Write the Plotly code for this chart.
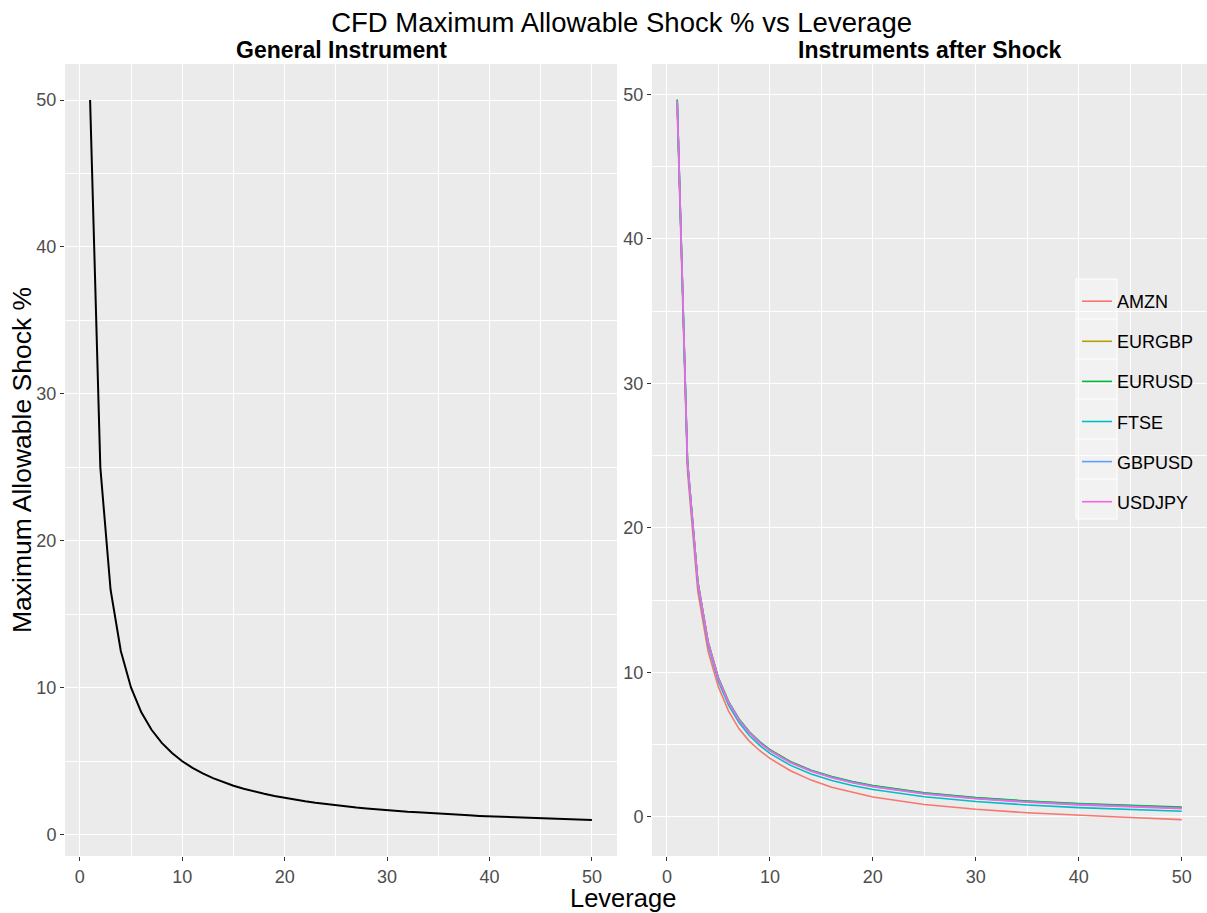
import plotly.graph_objects as go

# ---- data ----
lev_general = list(range(1, 51))
shock_general = [50.0, 25.0, 16.67, 12.5, 10.0, 8.33, 7.14, 6.25, 5.56, 5.0,
                 4.55, 4.17, 3.85, 3.57, 3.33, 3.13, 2.94, 2.78, 2.63, 2.5,
                 2.38, 2.27, 2.17, 2.08, 2.0, 1.92, 1.85, 1.79, 1.72, 1.67,
                 1.61, 1.56, 1.52, 1.47, 1.43, 1.39, 1.35, 1.32, 1.28, 1.25,
                 1.22, 1.19, 1.16, 1.14, 1.11, 1.09, 1.06, 1.04, 1.02, 1.0]

lev_inst = [1, 2, 3, 4, 5, 6, 7, 8, 9, 10, 12, 14, 16, 18, 20, 25, 30, 35, 40, 45, 50]
instruments = ["AMZN", "EURGBP", "EURUSD", "FTSE", "GBPUSD", "USDJPY"]
amzn = [48.9, 23.9, 15.6, 11.45, 9.0, 7.3, 6.1, 5.25, 4.6, 4.05, 3.2, 2.55, 2.05, 1.7, 1.38, 0.86, 0.53, 0.29, 0.11, -0.04, -0.18]
eurgbp = [49.6, 24.6, 16.3, 12.1, 9.6, 7.95, 6.77, 5.88, 5.2, 4.65, 3.82, 3.22, 2.78, 2.43, 2.16, 1.66, 1.33, 1.09, 0.91, 0.77, 0.66]
eurusd = [49.65, 24.62, 16.3, 12.12, 9.62, 7.96, 6.78, 5.9, 5.21, 4.66, 3.83, 3.24, 2.8, 2.45, 2.17, 1.68, 1.35, 1.11, 0.93, 0.79, 0.68]
ftse = [49.4, 24.35, 16.05, 11.88, 9.38, 7.72, 6.53, 5.64, 4.95, 4.4, 3.57, 2.98, 2.53, 2.18, 1.9, 1.4, 1.07, 0.83, 0.65, 0.51, 0.4]
gbpusd = [49.55, 24.55, 16.25, 12.08, 9.58, 7.92, 6.73, 5.85, 5.16, 4.61, 3.78, 3.19, 2.75, 2.4, 2.12, 1.62, 1.29, 1.05, 0.87, 0.73, 0.62]
usdjpy = [49.5, 24.5, 16.22, 12.05, 9.55, 7.89, 6.7, 5.82, 5.13, 4.58, 3.75, 3.16, 2.72, 2.37, 2.09, 1.59, 1.26, 1.02, 0.84, 0.7, 0.58]
series = [amzn, eurgbp, eurusd, ftse, gbpusd, usdjpy]
colors = ["#F8766D", "#B79F00", "#00BA38", "#00BFC4", "#619CFF", "#F564E3"]

title = "CFD Maximum Allowable Shock % vs Leverage"
sub_left = "General Instrument"
sub_right = "Instruments after Shock"
x_title = "Leverage"
y_title = "Maximum Allowable Shock %"

W, H = 1207, 913
ML, MR, MT, MB = 65, 0, 64, 57
PW, PH = W - ML - MR, H - MT - MB


def px_x(p):
    return (p - ML) / PW


def px_y(p):
    return 1 - (p - MT) / PH


fig = go.Figure()
fig.add_trace(go.Scatter(x=lev_general, y=shock_general, mode="lines",
                         line=dict(color="black", width=2), showlegend=False,
                         xaxis="x", yaxis="y"))
for name, vals, col in zip(instruments, series, colors):
    fig.add_trace(go.Scatter(x=lev_inst, y=vals, mode="lines", name=name,
                             legendgroup=name,
                             line=dict(color=col, width=1.6),
                             xaxis="x2", yaxis="y2"))

font_fam = "Liberation Sans, Arial, sans-serif"
axis_common = dict(
    showgrid=True, gridcolor="white", gridwidth=1.1, zeroline=False,
    showline=False, ticks="outside", ticklen=4, tickcolor="#333333",
    tickfont=dict(size=18, color="#4D4D4D", family=font_fam),
    minor=dict(showgrid=True, gridcolor="white", gridwidth=0.5, dtick=5, ticks=""),
    dtick=10, tick0=0,
)

fig.update_layout(
    width=W, height=H,
    plot_bgcolor="#EBEBEB", paper_bgcolor="white",
    margin=dict(l=ML, r=MR, t=MT, b=MB),
    font=dict(family=font_fam, color="black"),
    title=dict(text=title, x=0.515, xanchor="center", y=1 - 22 / H, yanchor="middle",
               yref="container",
               font=dict(size=27.5, color="black", family=font_fam)),
    xaxis=dict(domain=[0, px_x(617)], range=[-1.45, 52.45], anchor="y", **axis_common),
    yaxis=dict(domain=[0, 1], range=[-1.45, 52.45], anchor="x", **axis_common),
    xaxis2=dict(domain=[px_x(652), 1], range=[-1.45, 52.45], anchor="y2", **axis_common),
    yaxis2=dict(domain=[0, 1], range=[-2.7, 52.1], anchor="x2", **axis_common),
    legend=dict(x=px_x(1077), xanchor="left", y=px_y(283), yanchor="top",
                bgcolor="rgba(0,0,0,0)", borderwidth=0,
                font=dict(size=18, color="black", family=font_fam),
                tracegroupgap=13.7, itemwidth=30),
    showlegend=True,
)

# legend key background (ggplot-style)
fig.add_shape(type="rect", xref="paper", yref="paper",
              x0=px_x(1076), x1=px_x(1117), y0=px_y(519), y1=px_y(279),
              fillcolor="#F2F2F2", line=dict(color="white", width=1), layer="below")
for k in range(1, 6):
    yy = px_y(279 + k * 40)
    fig.add_shape(type="line", xref="paper", yref="paper",
                  x0=px_x(1076), x1=px_x(1117), y0=yy, y1=yy,
                  line=dict(color="white", width=1), layer="below")

fig.add_annotation(text="<b>" + sub_left + "</b>", xref="paper", yref="paper",
                   x=(px_x(65) + px_x(617)) / 2, xanchor="center", y=1.0, yanchor="bottom",
                   showarrow=False, yshift=-1,
                   font=dict(size=23, color="black", family=font_fam))
fig.add_annotation(text="<b>" + sub_right + "</b>", xref="paper", yref="paper",
                   x=(px_x(652) + 1) / 2, xanchor="center", y=1.0, yanchor="bottom",
                   showarrow=False, yshift=-1,
                   font=dict(size=23, color="black", family=font_fam))
fig.add_annotation(text=x_title, xref="paper", yref="paper", x=px_x(623), xanchor="center",
                   y=0, yanchor="bottom", yshift=-57, showarrow=False, borderpad=0,
                   font=dict(size=25.5, color="black", family=font_fam))
fig.add_annotation(text=y_title, xref="paper", yref="paper", x=0, y=0.5,
                   xanchor="center", xshift=-43, textangle=-90, showarrow=False,
                   font=dict(size=26.5, color="black", family=font_fam))

fig.write_html("out.html", config={"displayModeBar": False},
               post_script="document.body.style.margin='0';")
